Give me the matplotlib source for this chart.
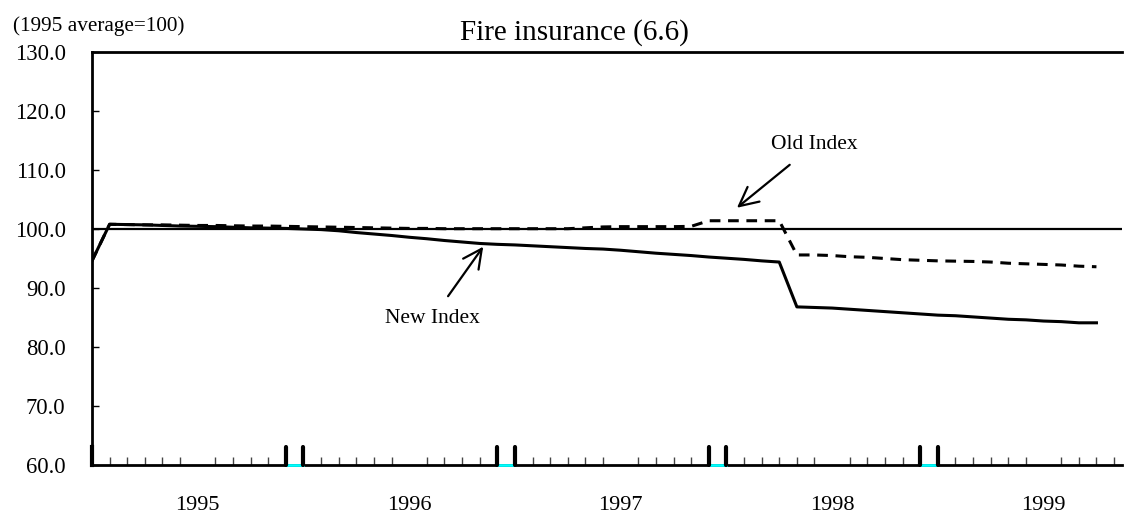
import matplotlib
matplotlib.use("Agg")
import matplotlib.pyplot as plt
import matplotlib.transforms as mtransforms

plt.rcParams['font.family'] = ['Liberation Serif', 'DejaVu Serif']

# monthly index, Jan 1995 .. Oct 1999 (1995 average = 100)
new_index = [94.6, 100.8, 100.75, 100.7, 100.6, 100.5, 100.45, 100.4, 100.3, 100.2,
             100.15, 100.1, 100.0, 99.9, 99.7, 99.4, 99.15, 98.9, 98.6, 98.35,
             98.05, 97.8, 97.55, 97.4, 97.3, 97.15, 97.0, 96.85, 96.7, 96.6,
             96.4, 96.15, 95.9, 95.7, 95.5, 95.25, 95.05, 94.85, 94.6, 94.4,
             86.8, 86.7, 86.6, 86.4, 86.2, 86.0, 85.8, 85.6, 85.4, 85.3,
             85.1, 84.9, 84.7, 84.6, 84.4, 84.3, 84.1, 84.1]
old_index = [94.6, 100.8, 100.75, 100.7, 100.7, 100.65, 100.6, 100.6, 100.55, 100.5,
             100.5, 100.45, 100.4, 100.35, 100.3, 100.25, 100.2, 100.15, 100.1, 100.1,
             100.05, 100.05, 100.05, 100.05, 100.05, 100.05, 100.05, 100.05, 100.2, 100.35,
             100.4, 100.4, 100.4, 100.4, 100.45, 101.4, 101.4, 101.4, 101.4, 101.4,
             95.6, 95.6, 95.5, 95.3, 95.2, 95.0, 94.8, 94.7, 94.6, 94.55,
             94.5, 94.4, 94.2, 94.1, 94.0, 93.9, 93.7, 93.6]
years = ["1995", "1996", "1997", "1998", "1999"]
year_breaks = [11, 23, 35, 47]   # Dec of each year; Jan follows at +1

fig = plt.figure(figsize=(11.24, 5.15), dpi=100)
ax = fig.add_axes([92 / 1124, 1 - 465 / 515, 1030 / 1124, 413 / 515])

months = list(range(len(new_index)))
ax.plot(months, old_index, color='black', lw=2.2, linestyle=(0, (3.5, 2.5)), zorder=3)
ax.plot(months, new_index, color='black', lw=2.2, zorder=4)
ax.axhline(100, color='black', lw=1.6, zorder=2)

ax.set_xlim(0, 58.45)
ax.set_ylim(60, 130)

# y axis
ax.set_yticks(range(60, 131, 10))
ax.set_yticklabels([f"{v:.1f}" for v in range(60, 131, 10)])
ax.tick_params(axis='y', direction='in', length=5, width=1, labelsize=16.3, pad=19)

# x axis: monthly minor ticks, year labels in the middle of each year
ax.set_xticks(range(0, 59), minor=True)
ax.tick_params(axis='x', which='minor', direction='in', length=6, width=1, color='#444444')
ax.set_xticks([6, 18, 30, 42, 54])
ax.set_xticklabels(years)
ax.tick_params(axis='x', which='major', length=0, labelsize=16, pad=22)

# tall marks at the year breaks
trans = mtransforms.blended_transform_factory(ax.transData, ax.transAxes)
ax.plot([0, 0], [0, 0.044], color='black', lw=3, transform=trans, clip_on=False, zorder=5)
for b in year_breaks:
    ax.plot([b + 0.05, b + 0.95], [0, 0], color='cyan', lw=2, transform=trans,
            clip_on=False, zorder=5)
    for xb in (b, b + 1):
        ax.plot([xb, xb], [0, 0.044], color='black', lw=3, solid_capstyle='round',
                transform=trans, clip_on=False, zorder=6)

for side in ['left', 'bottom', 'top']:
    ax.spines[side].set_linewidth(2)
ax.spines['right'].set_visible(False)

# annotations
ax.annotate("Old Index", xy=(36.6, 103.6), xytext=(41.0, 114.3), fontsize=15.5,
            ha='center', va='center',
            arrowprops=dict(arrowstyle='->', color='black', lw=1.6,
                            mutation_scale=34, shrinkA=9, shrinkB=0))
ax.annotate("New Index", xy=(22.2, 97.0), xytext=(19.3, 84.8), fontsize=15.5,
            ha='center', va='center',
            arrowprops=dict(arrowstyle='->', color='black', lw=1.6,
                            mutation_scale=34, shrinkA=9, shrinkB=0))

fig.text(574 / 1124, 1 - 39.5 / 515, "Fire insurance (6.6)", fontsize=21,
         ha='center', va='baseline')
fig.text(13 / 1124, 1 - 26 / 515, "(1995 average=100)", fontsize=15.3,
         ha='left', va='center')

fig.savefig("out.png", dpi=100)
